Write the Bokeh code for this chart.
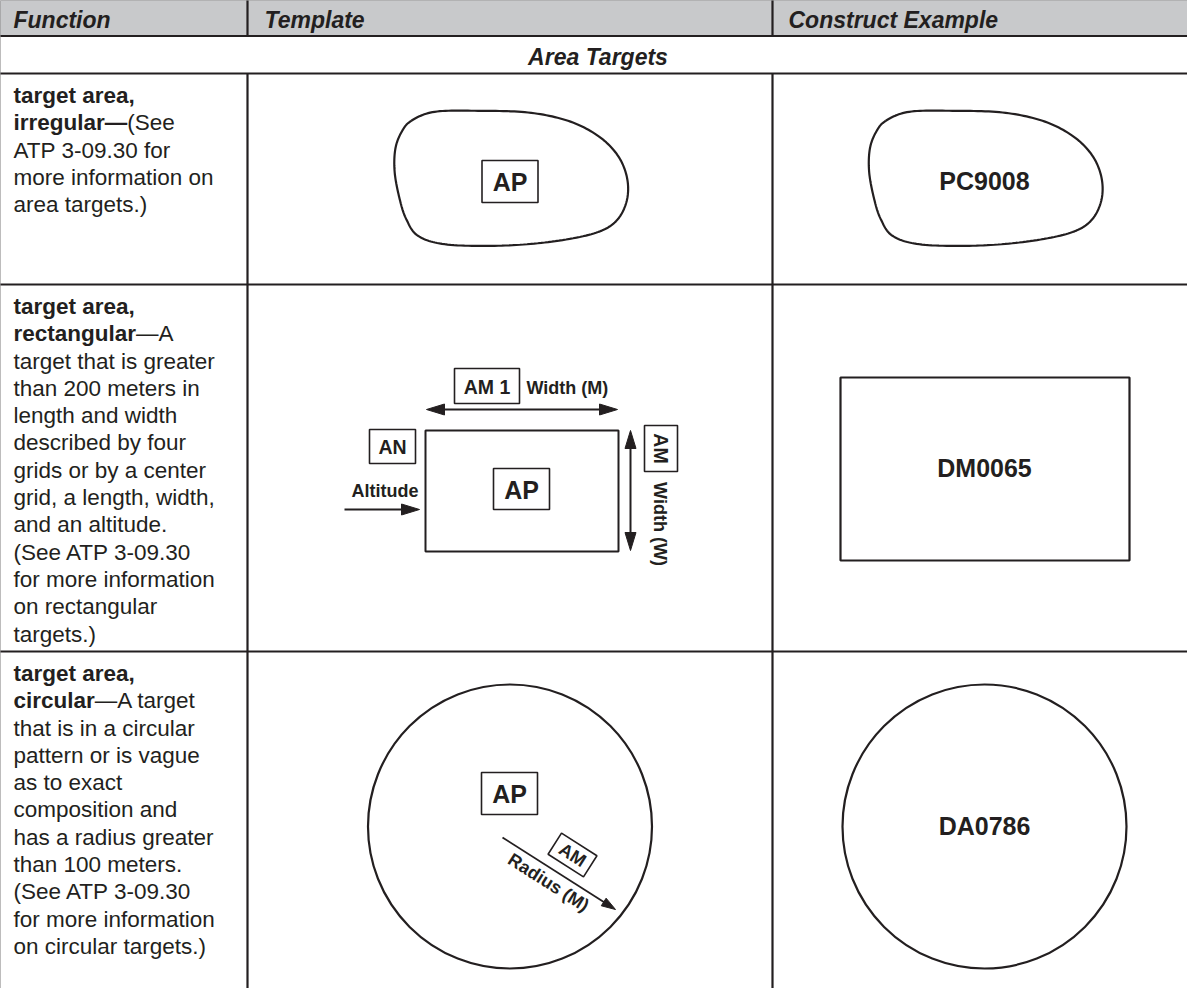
import numpy as np
from bokeh.plotting import figure
from bokeh.models import Range1d
from bokeh.core.properties import value
from bokeh.embed import file_html
from bokeh.resources import INLINE

# ---------------- content ----------------
header_labels = ["Function", "Template", "Construct Example"]
section_label = "Area Targets"
row_titles = ["target area,", "target area,", "target area,"]
row_keywords = ["irregular\u2014", "rectangular", "circular"]
row_keyword_tails = ["(See", "\u2014A", "\u2014A target"]
row_body = [
    ["ATP 3-09.30 for", "more information on", "area targets.)"],
    ["target that is greater", "than 200 meters in", "length and width",
     "described by four", "grids or by a center", "grid, a length, width,",
     "and an altitude.", "(See ATP 3-09.30", "for more information",
     "on rectangular", "targets.)"],
    ["that is in a circular", "pattern or is vague", "as to exact",
     "composition and", "has a radius greater", "than 100 meters.",
     "(See ATP 3-09.30", "for more information", "on circular targets.)"],
]
construct_codes = ["PC9008", "DM0065", "DA0786"]
template_code = "AP"
rect_labels = ["AM 1", "Width (M)", "AN", "Altitude", "AM", "Width (W)"]
circle_labels = ["AM", "Radius (M)"]
# irregular outline, offsets from the cell centre (px)
blob_dx = [-98.7, -75.3, -32.0, 18.0, 58.0, 88.0, 108.0, 117.3, 116.3, 104.7,
           81.3, 34.7, -15.3, -65.3, -92.0, -103.7, -110.3, -115.3, -114.7, -108.7]
blob_dy = [-59.7, -68.7, -69.7, -68.0, -59.7, -44.7, -24.7, -1.3, 22.0, 42.0,
           53.7, 62.0, 65.3, 63.7, 55.3, 38.7, 18.7, -8.0, -31.3, -48.0]

# ---------------- style / layout ----------------
INK = "#231f20"
GRAY = "#c8c9cb"
FONT = value("Liberation Sans")
BODY_FS = 22.5
X_L, X_C1, X_C2, X_R = 7, 255, 780, 1215
Y_T, Y_H, Y_S = 7, 43.5, 81
row_top = [81, 292, 659]
row_bot = [292, 659, 1010]
col2_c, col3_c = 517.5, 992

BOLD_W = {'i': 278, 'r': 389, 'e': 556, 'g': 611, 'u': 611, 'l': 278, 'a': 556,
          '\u2014': 1000, 'c': 556, 't': 333, 'n': 611}

p = figure(width=1187, height=988, x_range=Range1d(8, 1195), y_range=Range1d(996, 8),
           output_backend="svg", toolbar_location=None, min_border=0,
           x_axis_location=None, y_axis_location=None)
p.grid.visible = False
p.outline_line_color = None
p.background_fill_color = "white"
p.border_fill_color = "white"

CAP_MID = 0.358


def txt(x, y, s, fs, style="normal", align="left", baseline="alphabetic", angle=0.0):
    # all text is drawn with a "middle" anchor; an alphabetic baseline is converted
    if baseline == "alphabetic":
        y = y - CAP_MID * fs
    p.text(x=[x], y=[y], text=[s], text_font=FONT, text_font_size=f"{fs}px",
           text_font_style=style, text_color=INK, text_align=align,
           text_baseline="middle", angle=angle)


def box(l, t, r, b, lw=1.6):
    p.quad(left=[l], right=[r], top=[t], bottom=[b], fill_color=None,
           line_color=INK, line_width=lw)


def arrow(x0, y0, x1, y1, double=False, hl=18, hw=5.5, lw=2):
    u = np.array([x1 - x0, y1 - y0], float)
    u /= np.hypot(*u)
    n = np.array([-u[1], u[0]])
    a = np.array([x0, y0], float)
    b = np.array([x1, y1], float)
    s = a + u * (hl - 2) if double else a
    e = b - u * (hl - 2)
    p.line([s[0], e[0]], [s[1], e[1]], line_color=INK, line_width=lw)
    heads = [(b, u)] + ([(a, -u)] if double else [])
    for tip, d in heads:
        base = tip - d * hl
        c1 = base + n * hw
        c2 = base - n * hw
        p.patch([tip[0], c1[0], c2[0]], [tip[1], c1[1], c2[1]],
                fill_color=INK, line_color=INK, line_width=1)


def closed_spline(px, py, k=14):
    P = np.column_stack([px, py])
    m = len(P)
    out = []
    t = np.linspace(0, 1, k, endpoint=False)[:, None]
    for i in range(m):
        p0, p1, p2, p3 = P[i - 1], P[i], P[(i + 1) % m], P[(i + 2) % m]
        seg = 0.5 * ((2 * p1) + (-p0 + p2) * t + (2 * p0 - 5 * p1 + 4 * p2 - p3) * t ** 2
                     + (-p0 + 3 * p1 - 3 * p2 + p3) * t ** 3)
        out.append(seg)
    out = np.vstack(out)
    return list(out[:, 0]) + [out[0, 0]], list(out[:, 1]) + [out[0, 1]]


# ---------------- table frame ----------------
p.quad(left=[X_L], right=[X_R], top=[Y_T], bottom=[Y_H], fill_color=GRAY, line_color=None)
hx0 = [X_L] * 5
hx1 = [X_R] * 5
hy = [Y_T, Y_H, Y_S, row_bot[0], row_bot[1]]
p.segment(x0=hx0, y0=hy, x1=hx1, y1=hy, line_color=INK, line_width=2.2)
p.segment(x0=[X_L, X_C1, X_C2, X_C1, X_C2], y0=[Y_T, Y_T, Y_T, Y_S, Y_S],
          x1=[X_L, X_C1, X_C2, X_C1, X_C2], y1=[1010, Y_H, Y_H, 1010, 1010],
          line_color=INK, line_width=2.2)

# header + section
for xh, lab in zip([21, 272, 796], header_labels):
    txt(xh, 36, lab, 23, "bold italic")
txt((X_L + 1204) / 2, 73, section_label, 23, "bold italic", align="center")

# ---------------- function column ----------------
LH = 27.3
for r in range(3):
    y0 = row_top[r] + 30
    txt(21, y0, row_titles[r], BODY_FS, "bold")
    kw = row_keywords[r]
    txt(21, y0 + LH, kw, BODY_FS, "bold")
    wkw = sum(BOLD_W[c] for c in kw) / 1000 * BODY_FS
    txt(21 + wkw, y0 + LH, row_keyword_tails[r], BODY_FS)
    for j, line in enumerate(row_body[r]):
        txt(21, y0 + LH * (2 + j), line, BODY_FS)

CODE_FS = 25

# ---------------- row 1: irregular ----------------
cy1 = 188
for cx in (col2_c, col3_c):
    bx, by = closed_spline(np.array(blob_dx) + cx, np.array(blob_dy) + cy1)
    p.line(bx, by, line_color=INK, line_width=2.2)
box(col2_c - 28, cy1 - 20, col2_c + 28, cy1 + 22)
txt(col2_c, cy1 + 1, template_code, CODE_FS, "bold", align="center", baseline="middle")
txt(col3_c, cy1, construct_codes[0], CODE_FS, "bold", align="center", baseline="middle")

# ---------------- row 2: rectangular ----------------
box(433, 438, 626, 559, lw=2)
box(501, 476, 557, 517)
txt(529, 497, template_code, CODE_FS, "bold", align="center", baseline="middle")
arrow(434, 417, 625, 417, double=True)
box(462, 376, 527, 411)
txt(494.5, 394, rect_labels[0], 19.5, "bold", align="center", baseline="middle")
txt(534, 402, rect_labels[1], 18, "bold")
box(377, 437, 423, 471)
txt(400, 454.5, rect_labels[2], 19.5, "bold", align="center", baseline="middle")
txt(426, 505, rect_labels[3], 18, "bold", align="right")
arrow(352, 517, 427, 517)
arrow(638, 558, 638, 438, double=True)
box(652, 433, 685, 479)
txt(668.5, 456, rect_labels[4], 19.5, "bold", align="center", baseline="middle", angle=-np.pi / 2)
txt(667.5, 531.5, rect_labels[5], 18, "bold", align="center", baseline="middle", angle=-np.pi / 2)

box(848, 385, 1137, 568, lw=2.2)
txt(col3_c, 475, construct_codes[1], CODE_FS, "bold", align="center", baseline="middle")

# ---------------- row 3: circular ----------------
cy3 = 834
for cx in (col2_c, col3_c):
    p.circle(x=[cx], y=[cy3], radius=142, fill_color=None, line_color=INK, line_width=2.2)
box(489, 780, 545, 822)
txt(517, 801.5, template_code, CODE_FS, "bold", align="center", baseline="middle")
arrow(510, 845, 623, 917, hl=14, hw=4.5, lw=1.8)
th = np.arctan2(917 - 845, 623 - 510)
ux, uy = np.cos(th), np.sin(th)
nx, ny = -uy, ux
bcx, bcy, hwid, hhei = 580, 862.5, 21, 12.5
cxs = [bcx + sx * hwid * ux + sy * hhei * nx for sx, sy in [(-1, -1), (1, -1), (1, 1), (-1, 1)]]
cys = [bcy + sx * hwid * uy + sy * hhei * ny for sx, sy in [(-1, -1), (1, -1), (1, 1), (-1, 1)]]
p.patch(cxs, cys, fill_color=None, line_color=INK, line_width=1.6)
txt(bcx, bcy, circle_labels[0], 18, "bold", align="center", baseline="middle", angle=-th)
txt(556, 890, circle_labels[1], 18, "bold", align="center", baseline="middle", angle=-th)
txt(col3_c, 833, construct_codes[2], CODE_FS, "bold", align="center", baseline="middle")

open("out.html", "w").write(file_html(p, INLINE))
